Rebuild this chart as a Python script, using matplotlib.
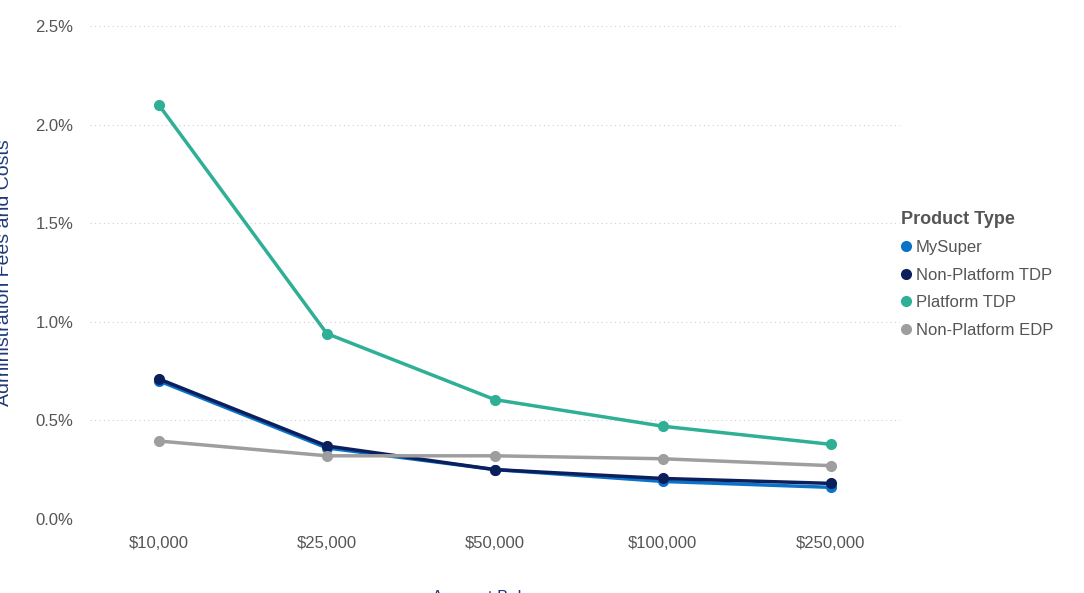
import matplotlib
matplotlib.use("Agg")
import matplotlib.pyplot as plt
from matplotlib.ticker import FuncFormatter

plt.rcParams["font.family"] = "Liberation Sans"

categories = ["$10,000", "$25,000", "$50,000", "$100,000", "$250,000"]
mysuper = [0.70, 0.36, 0.25, 0.19, 0.16]
np_tdp = [0.71, 0.37, 0.25, 0.205, 0.18]
platform_tdp = [2.10, 0.94, 0.605, 0.47, 0.378]
np_edp = [0.395, 0.32, 0.32, 0.305, 0.27]

series = [
    ("MySuper", mysuper, "#0A72C8"),
    ("Non-Platform TDP", np_tdp, "#0B1F5C"),
    ("Platform TDP", platform_tdp, "#2EAF96"),
    ("Non-Platform EDP", np_edp, "#9E9E9E"),
]

fig = plt.figure(figsize=(10.84, 5.93), dpi=100)
ax = fig.add_axes([0.083, 0.125, 0.747, 0.831])
x = list(range(len(categories)))
order = [3, 2, 0, 1]
for i in order:
    name, vals, c = series[i]
    ax.plot(x, vals, color=c, lw=2.5, marker="o", ms=7, label=name, zorder=3 + i)

ax.set_xlim(-0.41, 4.41)
ax.set_ylim(0, 2.5)
ax.set_yticks([0, 0.5, 1.0, 1.5, 2.0, 2.5])
ax.yaxis.set_major_formatter(FuncFormatter(lambda v, p: f"{v:.1f}%"))
ax.set_xticks(x)
ax.set_xticklabels(categories)
ax.grid(axis="y", color="#D0D0D0", ls=(0, (1, 3)), lw=0.8)
for s in ax.spines.values():
    s.set_visible(False)
ax.tick_params(length=0, labelsize=12, colors="#555555", pad=12)
ax.set_xlabel("Account Balance", color="#1F3A7A", fontsize=12)
ax.xaxis.set_label_coords(0.5, -0.145)
ax.set_ylabel("Administration Fees and Costs", color="#1F3A7A", fontsize=14)
ax.yaxis.set_label_coords(-0.095, 0.5)

handles, labels = ax.get_legend_handles_labels()
hmap = dict(zip(labels, handles))
names = [s[0] for s in series]
leg = fig.legend([hmap[n] for n in names], names, title="Product Type",
                 loc="upper left", bbox_to_anchor=(0.817, 0.67), frameon=False,
                 fontsize=12, handlelength=0.6, handletextpad=0.3, labelspacing=0.75,
                 alignment="left")
for h in leg.legend_handles:
    h.set_linestyle("")
for t in leg.get_texts():
    t.set_color("#555555")
leg.get_title().set_fontweight("bold")
leg.get_title().set_fontsize(13)
leg.get_title().set_color("#555555")

fig.savefig("out.png", dpi=100)
